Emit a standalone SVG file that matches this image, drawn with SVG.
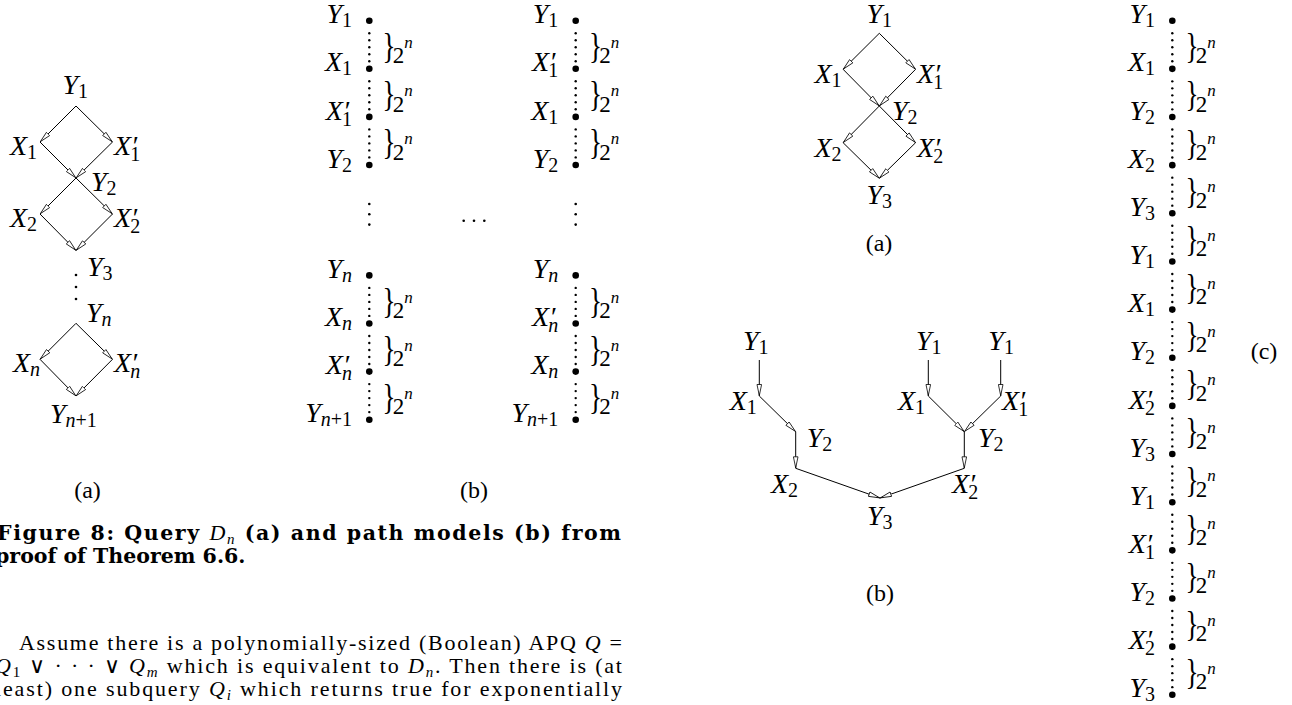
<svg xmlns="http://www.w3.org/2000/svg" width="1292" height="705" viewBox="0 0 1292 705">
<style>
  .m { font-family: "Liberation Serif", "Times New Roman", serif; font-style: italic; font-size: 28px; fill: #000; }
  .sb { font-size: 20px; font-style: normal; }
  .si { font-size: 20px; font-style: italic; }
  .rm { font-family: "Liberation Serif", serif; font-size: 24px; fill: #000; }
  .two { font-family: "Liberation Serif", serif; font-size: 23px; fill: #000; }
  .sup { font-size: 17px; font-style: italic; }
  .br { font-family: "Liberation Serif", serif; font-size: 36px; fill: #000; }
  .edge { stroke: #000; stroke-width: 1; fill: none; marker-end: url(#ah); }
  .txt { font-family: "Liberation Serif", serif; font-size: 22px; fill: #000; }
  .cap { font-family: "DejaVu Serif", serif; font-size: 20.5px; font-weight: bold; fill: #000; }
  .it { font-family: "Liberation Serif", serif; font-style: italic; font-weight: normal; }
  .lo { font-size: 15px; }
  .pt { fill: #000; }
</style>
<defs>
  <!-- hollow triangular arrowhead -->
  <marker id="ah" viewBox="0 0 12 6" refX="12" refY="3" markerWidth="12" markerHeight="6" markerUnits="userSpaceOnUse" orient="auto">
    <path d="M0.5,0.7 L11.6,3 L0.5,5.3 Z" fill="#fff" stroke="#000" stroke-width="0.8"/>
  </marker>
  <!-- dotted run between two consecutive path points (origin = upper point) -->
  <g id="run" class="pt">
    <circle cx="0" cy="12.5" r="1.2"/>
    <circle cx="0" cy="19.5" r="1.2"/>
    <circle cx="0" cy="26.5" r="1.2"/>
    <circle cx="0" cy="33.5" r="1.2"/>
    <circle cx="0" cy="40.5" r="1.2"/>
  </g>
  <!-- brace with the 2^n count -->
  <g id="count">
    <text class="br" transform="translate(13.3,37.5) scale(0.75,1)">}</text>
    <text class="two" x="23.5" y="42.8">2<tspan class="sup" dy="-15.5">n</tspan></text>
  </g>
  <circle id="pt" r="3.3" class="pt"/>
</defs>
<rect width="1292" height="705" fill="#fff"/>

<!-- ===== connectors ===== -->
<g id="connectors">
  <!-- query D_n -->
  <line class="edge" x1="76" y1="106" x2="40" y2="142"/>
  <line class="edge" x1="76" y1="106" x2="112.5" y2="142"/>
  <line class="edge" x1="40" y1="142" x2="76" y2="178"/>
  <line class="edge" x1="112.5" y1="142" x2="76" y2="178"/>
  <line class="edge" x1="76" y1="178" x2="40" y2="214"/>
  <line class="edge" x1="76" y1="178" x2="112.5" y2="214"/>
  <line class="edge" x1="40" y1="214" x2="76" y2="250.5"/>
  <line class="edge" x1="112.5" y1="214" x2="76" y2="250.5"/>
  <line class="edge" x1="76" y1="323.3" x2="40" y2="359.3"/>
  <line class="edge" x1="76" y1="323.3" x2="112.5" y2="359.3"/>
  <line class="edge" x1="40" y1="359.3" x2="76" y2="396"/>
  <line class="edge" x1="112.5" y1="359.3" x2="76" y2="396"/>
  <g class="pt">
    <circle cx="76" cy="275" r="1.3"/>
    <circle cx="76" cy="287" r="1.3"/>
    <circle cx="76" cy="299" r="1.3"/>
  </g>

  <!-- path models, column 1 -->
  <use href="#run" x="369.3" y="20.7"/>
  <use href="#run" x="369.3" y="68.8"/>
  <use href="#run" x="369.3" y="116.9"/>
  <use href="#run" x="369.3" y="275.4"/>
  <use href="#run" x="369.3" y="323.5"/>
  <use href="#run" x="369.3" y="371.6"/>
  <!-- path models, column 2 -->
  <use href="#run" x="575.7" y="20.7"/>
  <use href="#run" x="575.7" y="68.8"/>
  <use href="#run" x="575.7" y="116.9"/>
  <use href="#run" x="575.7" y="275.4"/>
  <use href="#run" x="575.7" y="323.5"/>
  <use href="#run" x="575.7" y="371.6"/>
  <g class="pt">
    <circle cx="369.3" cy="204" r="1.3"/>
    <circle cx="369.3" cy="214.3" r="1.3"/>
    <circle cx="369.3" cy="224.6" r="1.3"/>
    <circle cx="575.7" cy="204" r="1.3"/>
    <circle cx="575.7" cy="214.3" r="1.3"/>
    <circle cx="575.7" cy="224.6" r="1.3"/>
    <circle cx="463.7" cy="220.7" r="1.3"/>
    <circle cx="474" cy="220.7" r="1.3"/>
    <circle cx="484.3" cy="220.7" r="1.3"/>
  </g>

  <!-- query (a), right -->
  <line class="edge" x1="879.3" y1="33.3" x2="843.1" y2="69.3"/>
  <line class="edge" x1="879.3" y1="33.3" x2="915.6" y2="69.3"/>
  <line class="edge" x1="843.1" y1="69.3" x2="879.3" y2="106"/>
  <line class="edge" x1="915.6" y1="69.3" x2="879.3" y2="106"/>
  <line class="edge" x1="879.3" y1="106" x2="843.1" y2="142.7"/>
  <line class="edge" x1="879.3" y1="106" x2="915.6" y2="142.7"/>
  <line class="edge" x1="843.1" y1="142.7" x2="879.3" y2="178.3"/>
  <line class="edge" x1="915.6" y1="142.7" x2="879.3" y2="178.3"/>

  <!-- tree (b), right -->
  <line class="edge" x1="759.3" y1="360" x2="759.3" y2="396"/>
  <line class="edge" x1="759.3" y1="396" x2="795.7" y2="431.7"/>
  <line class="edge" x1="795.7" y1="431.7" x2="795.7" y2="468.3"/>
  <line class="edge" x1="795.7" y1="468.3" x2="880" y2="498"/>
  <line class="edge" x1="928.3" y1="360" x2="928.3" y2="396"/>
  <line class="edge" x1="1000.7" y1="360" x2="1000.7" y2="396"/>
  <line class="edge" x1="928.3" y1="396" x2="964.3" y2="431.7"/>
  <line class="edge" x1="1000.7" y1="396" x2="964.3" y2="431.7"/>
  <line class="edge" x1="964.3" y1="431.7" x2="964.3" y2="468.3"/>
  <line class="edge" x1="964.3" y1="468.3" x2="880" y2="498"/>

  <!-- path model (c) -->
  <use href="#run" x="1172.3" y="20.7"/>
  <use href="#run" x="1172.3" y="68.85"/>
  <use href="#run" x="1172.3" y="117"/>
  <use href="#run" x="1172.3" y="165.15"/>
  <use href="#run" x="1172.3" y="213.3"/>
  <use href="#run" x="1172.3" y="261.45"/>
  <use href="#run" x="1172.3" y="309.6"/>
  <use href="#run" x="1172.3" y="357.75"/>
  <use href="#run" x="1172.3" y="405.9"/>
  <use href="#run" x="1172.3" y="454.05"/>
  <use href="#run" x="1172.3" y="502.2"/>
  <use href="#run" x="1172.3" y="550.35"/>
  <use href="#run" x="1172.3" y="598.5"/>
  <use href="#run" x="1172.3" y="646.65"/>
</g>

<!-- ===== brace counts ===== -->
<g id="counts">
  <use href="#count" x="369.3" y="20.7"/>
  <use href="#count" x="369.3" y="68.8"/>
  <use href="#count" x="369.3" y="116.9"/>
  <use href="#count" x="369.3" y="275.4"/>
  <use href="#count" x="369.3" y="323.5"/>
  <use href="#count" x="369.3" y="371.6"/>
  <use href="#count" x="575.7" y="20.7"/>
  <use href="#count" x="575.7" y="68.8"/>
  <use href="#count" x="575.7" y="116.9"/>
  <use href="#count" x="575.7" y="275.4"/>
  <use href="#count" x="575.7" y="323.5"/>
  <use href="#count" x="575.7" y="371.6"/>
  <use href="#count" x="1172.3" y="20.7"/>
  <use href="#count" x="1172.3" y="68.85"/>
  <use href="#count" x="1172.3" y="117"/>
  <use href="#count" x="1172.3" y="165.15"/>
  <use href="#count" x="1172.3" y="213.3"/>
  <use href="#count" x="1172.3" y="261.45"/>
  <use href="#count" x="1172.3" y="309.6"/>
  <use href="#count" x="1172.3" y="357.75"/>
  <use href="#count" x="1172.3" y="405.9"/>
  <use href="#count" x="1172.3" y="454.05"/>
  <use href="#count" x="1172.3" y="502.2"/>
  <use href="#count" x="1172.3" y="550.35"/>
  <use href="#count" x="1172.3" y="598.5"/>
  <use href="#count" x="1172.3" y="646.65"/>
</g>

<!-- ===== query D_n nodes ===== -->
<g id="dn-y1"><text class="m" x="62.5" y="94">Y<tspan class="sb" dy="4">1</tspan></text></g>
<g id="dn-x1"><text class="m" x="10" y="155">X<tspan class="sb" dy="4">1</tspan></text></g>
<g id="dn-x1p"><text class="m" x="114" y="155">X<tspan>′</tspan><tspan class="sb" dx="-7" dy="6">1</tspan></text></g>
<g id="dn-y2"><text class="m" x="91" y="191">Y<tspan class="sb" dy="4">2</tspan></text></g>
<g id="dn-x2"><text class="m" x="10" y="227">X<tspan class="sb" dy="4">2</tspan></text></g>
<g id="dn-x2p"><text class="m" x="114" y="227">X<tspan>′</tspan><tspan class="sb" dx="-7" dy="6">2</tspan></text></g>
<g id="dn-y3"><text class="m" x="87" y="276">Y<tspan class="sb" dy="4">3</tspan></text></g>
<g id="dn-yn"><text class="m" x="86" y="322">Y<tspan class="si" dy="4">n</tspan></text></g>
<g id="dn-xn"><text class="m" x="13" y="372">X<tspan class="si" dy="4">n</tspan></text></g>
<g id="dn-xnp"><text class="m" x="114" y="372">X<tspan>′</tspan><tspan class="si" dx="-7" dy="6">n</tspan></text></g>
<g id="dn-yn1"><text class="m" x="50" y="423">Y<tspan class="si" dy="4">n</tspan><tspan class="sb">+1</tspan></text></g>
<text class="rm" x="87.5" y="498" text-anchor="middle">(a)</text>

<!-- ===== path models (b), column 1 ===== -->
<g id="p1-0"><use href="#pt" x="369.3" y="20.7"/><text class="m" x="352" y="23.3" text-anchor="end">Y<tspan class="sb" dy="4">1</tspan></text></g>
<g id="p1-1"><use href="#pt" x="369.3" y="68.8"/><text class="m" x="352" y="71.4" text-anchor="end">X<tspan class="sb" dy="4">1</tspan></text></g>
<g id="p1-2"><use href="#pt" x="369.3" y="116.9"/><text class="m" x="352" y="119.5" text-anchor="end">X<tspan>′</tspan><tspan class="sb" dx="-7" dy="6">1</tspan></text></g>
<g id="p1-3"><use href="#pt" x="369.3" y="165"/><text class="m" x="352" y="167.6" text-anchor="end">Y<tspan class="sb" dy="4">2</tspan></text></g>
<g id="p1-4"><use href="#pt" x="369.3" y="275.4"/><text class="m" x="352" y="278" text-anchor="end">Y<tspan class="si" dy="4">n</tspan></text></g>
<g id="p1-5"><use href="#pt" x="369.3" y="323.5"/><text class="m" x="352" y="326.1" text-anchor="end">X<tspan class="si" dy="4">n</tspan></text></g>
<g id="p1-6"><use href="#pt" x="369.3" y="371.6"/><text class="m" x="352" y="374.2" text-anchor="end">X<tspan>′</tspan><tspan class="si" dx="-7" dy="6">n</tspan></text></g>
<g id="p1-7"><use href="#pt" x="369.3" y="419.7"/><text class="m" x="352" y="422.3" text-anchor="end">Y<tspan class="si" dy="4">n</tspan><tspan class="sb">+1</tspan></text></g>

<!-- ===== path models (b), column 2 ===== -->
<g id="p2-0"><use href="#pt" x="575.7" y="20.7"/><text class="m" x="558.3" y="23.3" text-anchor="end">Y<tspan class="sb" dy="4">1</tspan></text></g>
<g id="p2-1"><use href="#pt" x="575.7" y="68.8"/><text class="m" x="558.3" y="71.4" text-anchor="end">X<tspan>′</tspan><tspan class="sb" dx="-7" dy="6">1</tspan></text></g>
<g id="p2-2"><use href="#pt" x="575.7" y="116.9"/><text class="m" x="558.3" y="119.5" text-anchor="end">X<tspan class="sb" dy="4">1</tspan></text></g>
<g id="p2-3"><use href="#pt" x="575.7" y="165"/><text class="m" x="558.3" y="167.6" text-anchor="end">Y<tspan class="sb" dy="4">2</tspan></text></g>
<g id="p2-4"><use href="#pt" x="575.7" y="275.4"/><text class="m" x="558.3" y="278" text-anchor="end">Y<tspan class="si" dy="4">n</tspan></text></g>
<g id="p2-5"><use href="#pt" x="575.7" y="323.5"/><text class="m" x="558.3" y="326.1" text-anchor="end">X<tspan>′</tspan><tspan class="si" dx="-7" dy="6">n</tspan></text></g>
<g id="p2-6"><use href="#pt" x="575.7" y="371.6"/><text class="m" x="558.3" y="374.2" text-anchor="end">X<tspan class="si" dy="4">n</tspan></text></g>
<g id="p2-7"><use href="#pt" x="575.7" y="419.7"/><text class="m" x="558.3" y="422.3" text-anchor="end">Y<tspan class="si" dy="4">n</tspan><tspan class="sb">+1</tspan></text></g>
<text class="rm" x="474" y="498" text-anchor="middle">(b)</text>

<!-- ===== query (a), right ===== -->
<g id="qa-y1"><text class="m" x="866.5" y="22.7">Y<tspan class="sb" dy="4">1</tspan></text></g>
<g id="qa-x1"><text class="m" x="814.5" y="83.3">X<tspan class="sb" dy="4">1</tspan></text></g>
<g id="qa-x1p"><text class="m" x="917" y="83.3">X<tspan>′</tspan><tspan class="sb" dx="-7" dy="6">1</tspan></text></g>
<g id="qa-y2"><text class="m" x="892" y="120">Y<tspan class="sb" dy="4">2</tspan></text></g>
<g id="qa-x2"><text class="m" x="814.5" y="156.7">X<tspan class="sb" dy="4">2</tspan></text></g>
<g id="qa-x2p"><text class="m" x="917" y="156.7">X<tspan>′</tspan><tspan class="sb" dx="-7" dy="6">2</tspan></text></g>
<g id="qa-y3"><text class="m" x="866.5" y="203.5">Y<tspan class="sb" dy="4">3</tspan></text></g>
<text class="rm" x="879" y="251" text-anchor="middle">(a)</text>

<!-- ===== tree (b), right ===== -->
<g id="tb-y1a"><text class="m" x="743" y="350">Y<tspan class="sb" dy="4">1</tspan></text></g>
<g id="tb-x1a"><text class="m" x="729.7" y="410">X<tspan class="sb" dy="4">1</tspan></text></g>
<g id="tb-y2a"><text class="m" x="806.7" y="446.7">Y<tspan class="sb" dy="4">2</tspan></text></g>
<g id="tb-x2"><text class="m" x="771" y="493">X<tspan class="sb" dy="4">2</tspan></text></g>
<g id="tb-y1b"><text class="m" x="916" y="350">Y<tspan class="sb" dy="4">1</tspan></text></g>
<g id="tb-y1c"><text class="m" x="988.3" y="350">Y<tspan class="sb" dy="4">1</tspan></text></g>
<g id="tb-x1b"><text class="m" x="898" y="410">X<tspan class="sb" dy="4">1</tspan></text></g>
<g id="tb-x1p"><text class="m" x="1002" y="410">X<tspan>′</tspan><tspan class="sb" dx="-7" dy="6">1</tspan></text></g>
<g id="tb-y2b"><text class="m" x="978" y="446.7">Y<tspan class="sb" dy="4">2</tspan></text></g>
<g id="tb-x2p"><text class="m" x="952" y="493">X<tspan>′</tspan><tspan class="sb" dx="-7" dy="6">2</tspan></text></g>
<g id="tb-y3"><text class="m" x="867" y="525">Y<tspan class="sb" dy="4">3</tspan></text></g>
<text class="rm" x="880" y="601" text-anchor="middle">(b)</text>

<!-- ===== path model (c) ===== -->
<g id="pc-0"><use href="#pt" x="1172.3" y="20.7"/><text class="m" x="1155" y="23.3" text-anchor="end">Y<tspan class="sb" dy="4">1</tspan></text></g>
<g id="pc-1"><use href="#pt" x="1172.3" y="68.85"/><text class="m" x="1155" y="71.45" text-anchor="end">X<tspan class="sb" dy="4">1</tspan></text></g>
<g id="pc-2"><use href="#pt" x="1172.3" y="117"/><text class="m" x="1155" y="119.6" text-anchor="end">Y<tspan class="sb" dy="4">2</tspan></text></g>
<g id="pc-3"><use href="#pt" x="1172.3" y="165.15"/><text class="m" x="1155" y="167.75" text-anchor="end">X<tspan class="sb" dy="4">2</tspan></text></g>
<g id="pc-4"><use href="#pt" x="1172.3" y="213.3"/><text class="m" x="1155" y="215.9" text-anchor="end">Y<tspan class="sb" dy="4">3</tspan></text></g>
<g id="pc-5"><use href="#pt" x="1172.3" y="261.45"/><text class="m" x="1155" y="264.05" text-anchor="end">Y<tspan class="sb" dy="4">1</tspan></text></g>
<g id="pc-6"><use href="#pt" x="1172.3" y="309.6"/><text class="m" x="1155" y="312.2" text-anchor="end">X<tspan class="sb" dy="4">1</tspan></text></g>
<g id="pc-7"><use href="#pt" x="1172.3" y="357.75"/><text class="m" x="1155" y="360.35" text-anchor="end">Y<tspan class="sb" dy="4">2</tspan></text></g>
<g id="pc-8"><use href="#pt" x="1172.3" y="405.9"/><text class="m" x="1155" y="408.5" text-anchor="end">X<tspan>′</tspan><tspan class="sb" dx="-7" dy="6">2</tspan></text></g>
<g id="pc-9"><use href="#pt" x="1172.3" y="454.05"/><text class="m" x="1155" y="456.65" text-anchor="end">Y<tspan class="sb" dy="4">3</tspan></text></g>
<g id="pc-10"><use href="#pt" x="1172.3" y="502.2"/><text class="m" x="1155" y="504.8" text-anchor="end">Y<tspan class="sb" dy="4">1</tspan></text></g>
<g id="pc-11"><use href="#pt" x="1172.3" y="550.35"/><text class="m" x="1155" y="552.95" text-anchor="end">X<tspan>′</tspan><tspan class="sb" dx="-7" dy="6">1</tspan></text></g>
<g id="pc-12"><use href="#pt" x="1172.3" y="598.5"/><text class="m" x="1155" y="601.1" text-anchor="end">Y<tspan class="sb" dy="4">2</tspan></text></g>
<g id="pc-13"><use href="#pt" x="1172.3" y="646.65"/><text class="m" x="1155" y="649.25" text-anchor="end">X<tspan>′</tspan><tspan class="sb" dx="-7" dy="6">2</tspan></text></g>
<g id="pc-14"><use href="#pt" x="1172.3" y="694.8"/><text class="m" x="1155" y="697.4" text-anchor="end">Y<tspan class="sb" dy="4">3</tspan></text></g>
<text class="rm" x="1264" y="359" text-anchor="middle">(c)</text>

<!-- ===== caption and body text ===== -->
<g id="caption">
  <text class="cap" x="-3" y="540" textLength="624" lengthAdjust="spacing">Figure 8: Query <tspan class="it" font-size="22">D</tspan><tspan class="it lo" dy="4">n</tspan><tspan dy="-4"> (a) and path models (b) from</tspan></text>
  <text class="cap" x="-5" y="563">proof of Theorem 6.6.</text>
</g>
<g id="body">
  <text class="txt" x="19" y="649.5" textLength="603" lengthAdjust="spacing">Assume there is a polynomially-sized (Boolean) APQ <tspan class="it">Q</tspan> =</text>
  <text class="txt" x="-5" y="672.6" textLength="627" lengthAdjust="spacing"><tspan class="it">Q</tspan><tspan class="lo" dy="4">1</tspan><tspan dy="-4"> ∨ · · · ∨ </tspan><tspan class="it">Q</tspan><tspan class="it lo" dy="4">m</tspan><tspan dy="-4"> which is equivalent to </tspan><tspan class="it">D</tspan><tspan class="it lo" dy="4">n</tspan><tspan dy="-4">. Then there is (at</tspan></text>
  <text class="txt" x="-5" y="695.5" textLength="627" lengthAdjust="spacing">least) one subquery <tspan class="it">Q</tspan><tspan class="it lo" dy="4">i</tspan><tspan dy="-4"> which returns true for exponentially</tspan></text>
</g>
</svg>
